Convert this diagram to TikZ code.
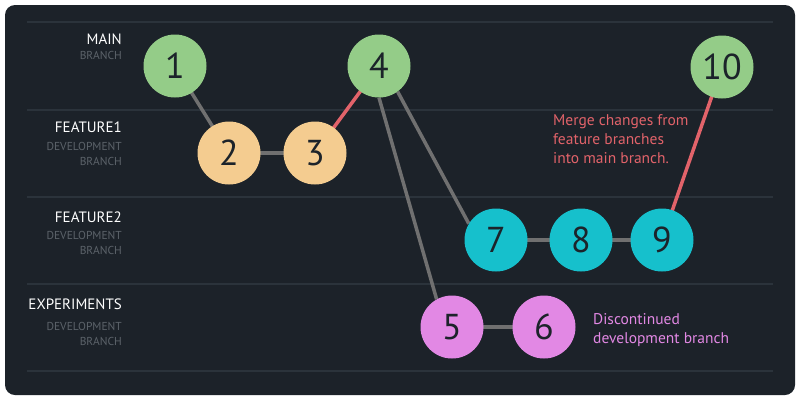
\documentclass[tikz,border=0pt]{standalone}
\usepackage{fontspec}
\setmainfont{PT Sans}
\usetikzlibrary{backgrounds}
\definecolor{bgdark}{HTML}{1C2229}
\definecolor{rowline}{HTML}{2B333B}
\definecolor{cgreen}{HTML}{94CC88}
\definecolor{corange}{HTML}{F4CC90}
\definecolor{cteal}{HTML}{16C0CC}
\definecolor{cpink}{HTML}{E288E4}
\definecolor{digit}{HTML}{1C232A}
\definecolor{linkgray}{HTML}{707070}
\definecolor{linkred}{HTML}{E2636A}
\definecolor{subgray}{HTML}{5C636A}
\tikzset{
  commit/.style={circle,minimum size=63bp,inner sep=0pt,text=digit,
    font=\fontsize{36bp}{40bp}\selectfont},
  branchname/.style={anchor=base east,text=white,inner sep=0pt,
    font=\fontsize{15bp}{17bp}\selectfont},
  branchsub/.style={anchor=base east,text=subgray,inner sep=0pt,
    font=\fontsize{11.5bp}{13bp}\selectfont},
  note/.style={anchor=base west,inner sep=0pt,
    font=\fontsize{15.5bp}{18bp}\selectfont},
  graylink/.style={draw=linkgray,line width=3.5bp},
  redlink/.style={draw=linkred,line width=3.5bp},
  rowsep/.style={draw=rowline,line width=2bp}
}
\begin{document}
\begin{tikzpicture}[x=1bp,y=-1bp]
\useasboundingbox (0,0) rectangle (800,400);
% labels
\node[branchname] (lmain) at (122,44) {MAIN};
\node[branchsub] (lmainb) at (122,59) {BRANCH};
\node[branchname] (lf1) at (122,132) {FEATURE1};
\node[branchsub] (lf1d) at (122,150) {DEVELOPMENT};
\node[branchsub] (lf1b) at (122,165) {BRANCH};
\node[branchname] (lf2) at (122,222) {FEATURE2};
\node[branchsub] (lf2d) at (122,239) {DEVELOPMENT};
\node[branchsub] (lf2b) at (122,254) {BRANCH};
\node[branchname] (lex) at (122,309) {EXPERIMENTS};
\node[branchsub] (lexd) at (122,330) {DEVELOPMENT};
\node[branchsub] (lexb) at (122,345) {BRANCH};
% commits
\node[commit,fill=cgreen] (n1) at (175,66) {1};
\node[commit,fill=corange] (n2) at (229,153) {2};
\node[commit,fill=corange] (n3) at (315,153) {3};
\node[commit,fill=cgreen] (n4) at (379,66) {4};
\node[commit,fill=cpink] (n5) at (452,327) {5};
\node[commit,fill=cpink] (n6) at (544,327) {6};
\node[commit,fill=cteal] (n7) at (496,240) {7};
\node[commit,fill=cteal] (n8) at (581,240) {8};
\node[commit,fill=cteal] (n9) at (662,240) {9};
\node[commit,fill=cgreen] (n10) at (722,67) {10};
% notes
\node[note,text=linkred] (m1) at (553,125) {Merge changes from};
\node[note,text=linkred] (m2) at (553,144) {feature branches};
\node[note,text=linkred] (m3) at (553,163) {into main branch.};
\node[note,text=cpink] (d1) at (593,324) {Discontinued};
\node[note,text=cpink] (d2) at (593,343) {development branch};
% background and links
\begin{scope}[on background layer]
\fill[white] (0,0) rectangle (800,400);
\fill[bgdark,rounded corners=10bp] (5,5) rectangle (795,395);
\foreach \yy in {22,110,197,284,371}{
  \draw[rowsep] (27,\yy) -- (773,\yy);
}
\draw[graylink] (n1.center) -- (n2.center);
\draw[graylink] (n2.center) -- (n3.center);
\draw[redlink] (n3.center) -- (n4.center);
\draw[graylink] (n4.south) -- (n5.119);
\draw[graylink] (n4.306) -- (n7.149);
\draw[graylink] (n5.center) -- (n6.center);
\draw[graylink] (n7.center) -- (n8.center);
\draw[graylink] (n8.center) -- (n9.center);
\draw[redlink] (n9.center) -- (n10.center);
\end{scope}
\end{tikzpicture}
\end{document}
